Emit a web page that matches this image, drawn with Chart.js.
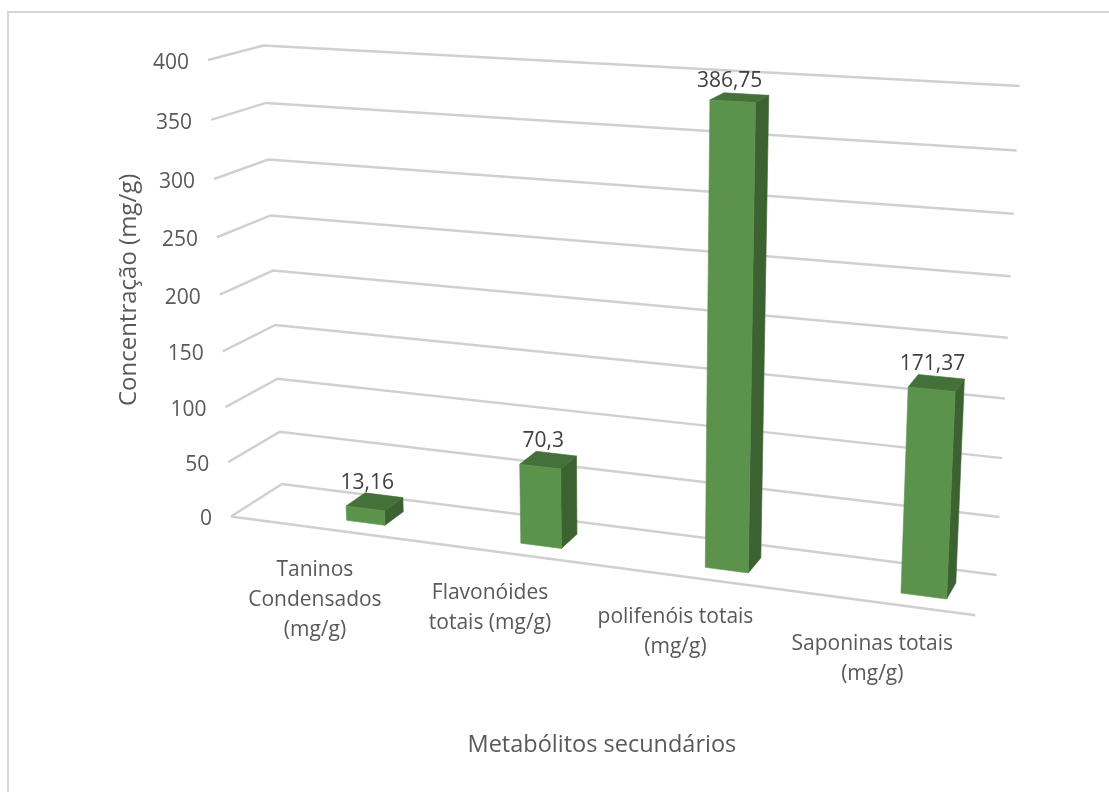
<!DOCTYPE html>
<html lang="pt">
<head>
<meta charset="utf-8">
<title>Metabólitos secundários</title>
<script src="https://cdn.jsdelivr.net/npm/chart.js@4"></script>
<style>
  html, body { margin: 0; padding: 0; background: #fff; }
  canvas { display: block; }
</style>
</head>
<body>
<canvas id="chart" width="1109" height="792"></canvas>
<script>
// Chart data
const categories = [
  ['Taninos', 'Condensados', '(mg/g)'],
  ['Flavonóides', 'totais (mg/g)'],
  ['polifenóis totais', '(mg/g)'],
  ['Saponinas totais', '(mg/g)']
];
const concentrations = [13.16, 70.3, 386.75, 171.37];
const valueLabels = ['13,16', '70,3', '386,75', '171,37'];
const axisMax = 400;
const axisStep = 50;

// Walls of the 3D box as seen on screen, listed bottom-left, bottom-right, top-right, top-left
const frontWall = [[231, 516.5], [975.3, 615.3], [998, 104.8], [208, 60]];
const backWall = [[282, 484], [996.7, 575], [1019.7, 86], [263.5, 45.5]];
const nearDepth = 0.29;
const farDepth = 0.69;
// Columns stand a little to the right of their category centre, as a share of the axis length
const columnShift = 0.0545;

// Small hand adjustments for the value labels above each column
const labelNudge = [[2, -25], [3, -26], [-3, -20], [1, -25]];

const FONT = '"Open Sans", sans-serif';
const COLORS = { front: '#5B934C', top: '#44713A', side: '#3C6231', grid: '#D0D0D0', frame: '#D6D6D6', axis: '#595959', value: '#404040' };

// Projective map from the unit square onto a screen quadrilateral
function quadMap(q) {
  const [[x0, y0], [x1, y1], [x2, y2], [x3, y3]] = q;
  const dx1 = x1 - x2, dx2 = x3 - x2, dx3 = x0 - x1 + x2 - x3;
  const dy1 = y1 - y2, dy2 = y3 - y2, dy3 = y0 - y1 + y2 - y3;
  const den = dx1 * dy2 - dx2 * dy1;
  const g = (dx3 * dy2 - dx2 * dy3) / den;
  const h = (dx1 * dy3 - dx3 * dy1) / den;
  const a = x1 - x0 + g * x1, b = x3 - x0 + h * x3;
  const d = y1 - y0 + g * y1, e = y3 - y0 + h * y3;
  return (u, v) => {
    const w = g * u + h * v + 1;
    return [(a * u + b * v + x0) / w, (d * u + e * v + y0) / w];
  };
}
const frontMap = quadMap(frontWall);
const backMap = quadMap(backWall);

// Scale pixels inside the chart area, plus a depth, become a point on screen
function project(chart, px, py, depth) {
  const area = chart.chartArea;
  const u = (px - area.left) / (area.right - area.left);
  const v = (area.bottom - py) / (area.bottom - area.top);
  const f = frontMap(u, v), b = backMap(u, v);
  return [f[0] + (b[0] - f[0]) * depth, f[1] + (b[1] - f[1]) * depth];
}

function polyline(ctx, pts) {
  ctx.beginPath();
  pts.forEach((p, i) => (i ? ctx.lineTo(p[0], p[1]) : ctx.moveTo(p[0], p[1])));
}

function fillFace(ctx, pts, color) {
  polyline(ctx, pts);
  ctx.closePath();
  ctx.fillStyle = color;
  ctx.strokeStyle = color;
  ctx.lineWidth = 0.6;
  ctx.fill();
  ctx.stroke();
}

const perspectivePlugin = {
  id: 'perspective',
  // Frame, gridlines and axis text sit behind the columns
  beforeDatasetsDraw(chart) {
    const { ctx, chartArea: area, scales: { x, y } } = chart;
    ctx.save();
    ctx.strokeStyle = COLORS.frame;
    ctx.lineWidth = 2;
    polyline(ctx, [[8, 792], [8, 12], [1109, 12]]);
    ctx.stroke();

    ctx.strokeStyle = COLORS.grid;
    ctx.lineWidth = 2.5;
    ctx.lineJoin = 'miter';
    ctx.font = '21px ' + FONT;
    ctx.fillStyle = COLORS.axis;
    ctx.textAlign = 'right';
    ctx.textBaseline = 'middle';
    y.ticks.forEach(t => {
      const py = y.getPixelForValue(t.value);
      const a = project(chart, area.left, py, 0);
      const b = project(chart, area.left, py, 1);
      const c = project(chart, area.right, py, 1);
      polyline(ctx, [a, b, c]);
      ctx.stroke();
      ctx.fillText(String(t.value), a[0] - 19, a[1] + 3);
    });
    const base = y.getPixelForValue(0);
    polyline(ctx, [project(chart, area.left, base, 0), project(chart, area.right, base, 0)]);
    ctx.stroke();

    ctx.textAlign = 'center';
    ctx.textBaseline = 'middle';
    categories.forEach((lines, i) => {
      const p = project(chart, x.getPixelForValue(i), base, 0);
      lines.forEach((line, k) => ctx.fillText(line, p[0], p[1] + 42 + k * 30));
    });
    ctx.restore();
  },
  // Each column is drawn as a box from its own bar element
  beforeDatasetDraw(chart, args) {
    const { ctx, chartArea: area } = chart;
    const meta = args.meta;
    const shift = columnShift * (area.right - area.left);
    ctx.save();
    meta.data.forEach((el, i) => {
      const l = el.x + shift - el.width / 2, r = el.x + shift + el.width / 2;
      const P = (px, py, d) => project(chart, px, py, d);
      fillFace(ctx, [P(r, el.base, nearDepth), P(r, el.base, farDepth), P(r, el.y, farDepth), P(r, el.y, nearDepth)], COLORS.side);
      fillFace(ctx, [P(l, el.y, nearDepth), P(r, el.y, nearDepth), P(r, el.y, farDepth), P(l, el.y, farDepth)], COLORS.top);
      fillFace(ctx, [P(l, el.base, nearDepth), P(r, el.base, nearDepth), P(r, el.y, nearDepth), P(l, el.y, nearDepth)], el.options.backgroundColor);

      const anchor = P(el.x + shift, el.y, nearDepth);
      ctx.font = '21px ' + FONT;
      ctx.fillStyle = COLORS.value;
      ctx.textAlign = 'center';
      ctx.textBaseline = 'middle';
      ctx.fillText(valueLabels[i], anchor[0] + labelNudge[i][0], anchor[1] + labelNudge[i][1]);
    });
    ctx.restore();
    return false;
  }
};

new Chart(document.getElementById('chart'), {
  type: 'bar',
  data: {
    labels: categories,
    datasets: [{
      label: 'Concentração (mg/g)',
      data: concentrations,
      backgroundColor: COLORS.front,
      categoryPercentage: 1,
      barPercentage: 0.225
    }]
  },
  options: {
    responsive: false,
    animation: false,
    events: [],
    layout: { padding: { left: 115, right: 67, top: 32, bottom: 33 } },
    plugins: { legend: { display: false }, tooltip: { enabled: false } },
    scales: {
      x: {
        grid: { display: false },
        border: { display: false },
        ticks: { display: false },
        title: {
          display: true,
          text: 'Metabólitos secundários',
          color: COLORS.axis,
          font: { family: FONT, size: 23.5, lineHeight: 1.2 },
          padding: { top: 175, bottom: 0 }
        }
      },
      y: {
        min: 0,
        max: axisMax,
        grid: { display: false },
        border: { display: false },
        ticks: { display: false, stepSize: axisStep },
        title: {
          display: true,
          text: 'Concentração (mg/g)',
          color: COLORS.axis,
          font: { family: FONT, size: 24, lineHeight: 1.2 },
          padding: { top: 0, bottom: 10 }
        }
      }
    }
  },
  plugins: [perspectivePlugin]
});
</script>
</body>
</html>
